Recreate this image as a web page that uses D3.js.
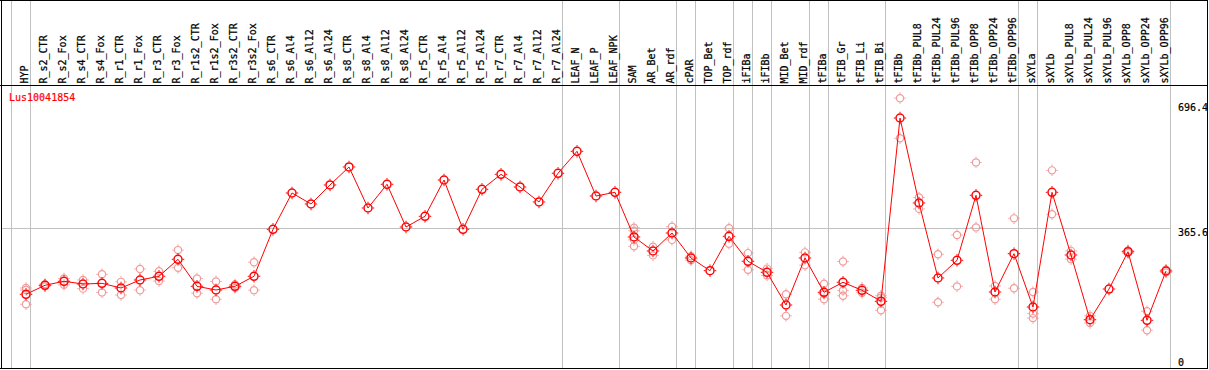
<!DOCTYPE html>
<html>
<head>
<meta charset="utf-8">
<script src="https://cdn.jsdelivr.net/npm/d3@7"></script>
<style>
html,body{margin:0;padding:0;background:#fff;}
svg{display:block;}
text{font-family:"DejaVu Sans Mono","Liberation Mono",monospace;font-size:10px;}
</style>
</head>
<body>
<svg id="chart" width="1209" height="370"></svg>
<script>
const geneId = "Lus10041854";
const categories = ["HYP","R_s2_CTR","R_s2_Fox","R_s4_CTR","R_s4_Fox","R_r1_CTR","R_r1_Fox","R_r3_CTR","R_r3_Fox","R_r1s2_CTR","R_r1s2_Fox","R_r3s2_CTR","R_r3s2_Fox","R_s6_CTR","R_s6_Al4","R_s6_Al12","R_s6_Al24","R_s8_CTR","R_s8_Al4","R_s8_Al12","R_s8_Al24","R_r5_CTR","R_r5_Al4","R_r5_Al12","R_r5_Al24","R_r7_CTR","R_r7_Al4","R_r7_Al12","R_r7_Al24","LEAF_N","LEAF_P","LEAF_NPK","SAM","AR_Bet","AR_rdf","cPAR","TOP_Bet","TOP_rdf","iFIBa","iFIBb","MID_Bet","MID_rdf","tFIBa","tFIB_Gr","tFIB_Li","tFIB_Bi","tFIBb","tFIBb_PUL8","tFIBb_PUL24","tFIBb_PUL96","tFIBb_OPP8","tFIBb_OPP24","tFIBb_OPP96","sXYLa","sXYLb","sXYLb_PUL8","sXYLb_PUL24","sXYLb_PUL96","sXYLb_OPP8","sXYLb_OPP24","sXYLb_OPP96"];
const meanValues = [191.1,214.9,225.4,218.3,220,207.7,228.9,238.7,283.6,212.2,202.4,212.2,238.7,363,459.1,430,480.3,527.9,419.4,482.1,369.1,397.4,493.5,363,468.9,508.5,475,435.3,511.2,569.4,451.1,460.9,342.7,305.6,353.2,287.1,253.5,344.5,278.4,249.2,162.7,287.1,196.3,222.8,201.6,172.5,657.5,432.6,234.2,281,453,197.1,298.5,157.4,460.9,295,123.8,205,303.8,122.2,252.7];
const replicateValues = [[207.7,202.4,164.6],[218,212],[233,216],[229,206],[244,196],[224,189],[258,202],[252,226],[308,261],[233,194],[225,178],[217,208],[276,202],[],[],[],[],[],[],[],[],[],[],[],[],[],[],[],[],[],[],[],[367,359,335,318],[317,294],[370,335],[292,281],[],[366,325],[300,256],[259,241],[191,134],[302,268],[219,192,178],[278,201,187],[208,195],[187,182,149],[710,604],[447,417],[297,170],[348,212],[540,368],[213,178],[392,207],[197,140,128],[519,403],[306,284],[134,115],[],[307,300],[146,96],[256,249]];
const groupStarts = [0,1,29,32,35,36,38,39,40,42,43,46,53,54,61];
const tickValues = [0,365.6,696.4];
const gridValues = [365.6];

const svg = d3.select("#chart");
const W = 1209, H = 370;
const x = d3.scaleBand().domain(categories).range([11,1170]);
const bw = x.bandwidth();
const y = d3.scaleLinear().domain([0,696.4]).range([366.5,103.3]);
const px = c => x(c) + 15;

svg.append("rect").attr("width",W).attr("height",H).attr("fill","#fff");

// grey group separators
svg.append("g").selectAll("line").data(groupStarts).join("line")
  .attr("x1",d=>Math.round(11+d*bw)+0.5).attr("x2",d=>Math.round(11+d*bw)+0.5)
  .attr("y1",0).attr("y2",369)
  .attr("stroke","#c0c0c0").attr("stroke-width",1);

// horizontal grid
svg.append("g").selectAll("line").data(gridValues).join("line")
  .attr("x1",1).attr("x2",1170)
  .attr("y1",d=>Math.round(y(d))+0.5).attr("y2",d=>Math.round(y(d))+0.5)
  .attr("stroke","#c0c0c0").attr("stroke-width",1);

// frame
const frame = svg.append("g").attr("stroke","#000").attr("stroke-width",1);
frame.append("line").attr("x1",0).attr("x2",1208).attr("y1",0.5).attr("y2",0.5);
frame.append("line").attr("x1",0).attr("x2",1208).attr("y1",85.5).attr("y2",85.5);
frame.append("line").attr("x1",0).attr("x2",1208).attr("y1",368.5).attr("y2",368.5);
frame.append("line").attr("x1",1.5).attr("x2",1.5).attr("y1",0).attr("y2",369);
frame.append("line").attr("x1",1207.5).attr("x2",1207.5).attr("y1",0).attr("y2",369);

// category labels
svg.append("g").selectAll("text").data(categories).join("text")
  .attr("transform",d=>`translate(${x(d)+16.85},83.5) rotate(-90)`)
  .attr("fill","#000")
  .attr("stroke","#000").attr("stroke-width",0.25)
  .text(d=>d);

// gene id
svg.append("text").attr("x",9).attr("y",101).attr("fill","#ff0000")
  .attr("stroke","#ff0000").attr("stroke-width",0.2).text(geneId);

// tick labels
svg.append("g").selectAll("text").data(tickValues).join("text")
  .attr("x",1178).attr("y",d=>Math.min(y(d)+7.6,365.5))
  .attr("fill","#000").attr("stroke","#000").attr("stroke-width",0.2).text(d=>d);

function marker(g, cx, cy, r, color, sw){
  g.append("circle").attr("cx",cx).attr("cy",cy).attr("r",r)
    .attr("fill","none").attr("stroke",color).attr("stroke-width",sw);
  const s = r + sw/2, e = r + sw/2 + 1.5;
  [[0,-1],[0,1],[-1,0],[1,0]].forEach(([dx,dy])=>{
    g.append("line").attr("x1",cx+dx*s).attr("y1",cy+dy*s).attr("x2",cx+dx*e).attr("y2",cy+dy*e)
      .attr("stroke",color).attr("stroke-width",1);
  });
}

// replicates
const repG = svg.append("g");
categories.forEach((c,i)=>{
  replicateValues[i].forEach(v=>marker(repG, px(c), y(v), 3.6, "#f09a9a", 1.2));
});

// mean line
const line = d3.line().x((d,i)=>px(categories[i])).y(d=>y(d));
svg.append("path").datum(meanValues).attr("d",line)
  .attr("fill","none").attr("stroke","#ff0000").attr("stroke-width",1);

// mean markers
const meanG = svg.append("g");
categories.forEach((c,i)=>marker(meanG, px(c), y(meanValues[i]), 4, "#ff0000", 1.5));
</script>
</body>
</html>
